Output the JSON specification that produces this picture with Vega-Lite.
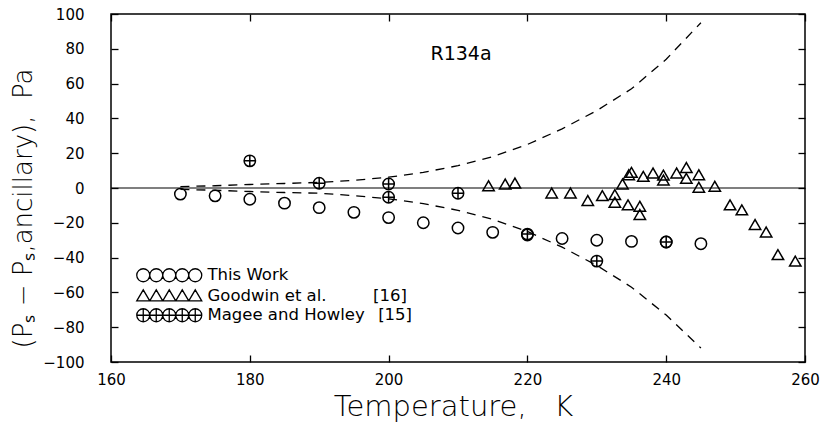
{
  "$schema": "https://vega.github.io/schema/vega-lite/v6.json",
  "width": 694,
  "height": 348,
  "autosize": {"type": "none"},
  "padding": {"left": 111, "top": 14, "right": 22, "bottom": 71},
  "background": "white",
  "title": {
    "text": "R134a",
    "font": "DejaVu Sans",
    "fontSize": 19,
    "fontWeight": "normal",
    "color": "black",
    "anchor": "middle",
    "frame": "group",
    "offset": -72,
    "dx": 3,
    "baseline": "alphabetic"
  },
  "config": {
    "view": {"stroke": "black", "strokeWidth": 1.5},
    "axis": {
      "labelFont": "DejaVu Sans",
      "labelFontSize": 15,
      "labelColor": "black",
      "tickColor": "black",
      "tickSize": -7,
      "tickWidth": 1.3,
      "domain": false,
      "grid": false,
      "titleFont": "DejaVu Sans",
      "titleFontWeight": 200,
      "titleColor": "black"
    }
  },
  "datasets": {
    "points": [
      {"T": 170, "v": -3.5, "series": "This Work"},
      {"T": 175, "v": -4.5, "series": "This Work"},
      {"T": 180, "v": -6.5, "series": "This Work"},
      {"T": 185, "v": -8.7, "series": "This Work"},
      {"T": 190, "v": -11.3, "series": "This Work"},
      {"T": 195, "v": -14, "series": "This Work"},
      {"T": 200, "v": -17, "series": "This Work"},
      {"T": 205, "v": -20, "series": "This Work"},
      {"T": 210, "v": -23, "series": "This Work"},
      {"T": 215, "v": -25.5, "series": "This Work"},
      {"T": 220, "v": -27, "series": "This Work"},
      {"T": 225, "v": -29, "series": "This Work"},
      {"T": 230, "v": -30, "series": "This Work"},
      {"T": 235, "v": -30.7, "series": "This Work"},
      {"T": 240, "v": -31, "series": "This Work"},
      {"T": 245, "v": -32, "series": "This Work"},
      {"T": 214.4, "v": 1.3, "series": "Goodwin et al. [16]"},
      {"T": 216.8, "v": 2.3, "series": "Goodwin et al. [16]"},
      {"T": 218.2, "v": 2.9, "series": "Goodwin et al. [16]"},
      {"T": 223.5, "v": -2.9, "series": "Goodwin et al. [16]"},
      {"T": 226.2, "v": -2.9, "series": "Goodwin et al. [16]"},
      {"T": 228.7, "v": -7.2, "series": "Goodwin et al. [16]"},
      {"T": 230.8, "v": -4.4, "series": "Goodwin et al. [16]"},
      {"T": 232.6, "v": -3.8, "series": "Goodwin et al. [16]"},
      {"T": 232.6, "v": -8.2, "series": "Goodwin et al. [16]"},
      {"T": 233.7, "v": 2.3, "series": "Goodwin et al. [16]"},
      {"T": 234.5, "v": -9.7, "series": "Goodwin et al. [16]"},
      {"T": 236.2, "v": -10.5, "series": "Goodwin et al. [16]"},
      {"T": 236.2, "v": -15.2, "series": "Goodwin et al. [16]"},
      {"T": 235.0, "v": 9.0, "series": "Goodwin et al. [16]"},
      {"T": 234.6, "v": 7.6, "series": "Goodwin et al. [16]"},
      {"T": 236.7, "v": 6.7, "series": "Goodwin et al. [16]"},
      {"T": 238.1, "v": 8.6, "series": "Goodwin et al. [16]"},
      {"T": 239.6, "v": 7.4, "series": "Goodwin et al. [16]"},
      {"T": 239.6, "v": 4.6, "series": "Goodwin et al. [16]"},
      {"T": 241.5, "v": 8.6, "series": "Goodwin et al. [16]"},
      {"T": 242.9, "v": 11.8, "series": "Goodwin et al. [16]"},
      {"T": 242.9, "v": 5.5, "series": "Goodwin et al. [16]"},
      {"T": 244.7, "v": 7.6, "series": "Goodwin et al. [16]"},
      {"T": 244.7, "v": 0.4, "series": "Goodwin et al. [16]"},
      {"T": 247.0, "v": 1.0, "series": "Goodwin et al. [16]"},
      {"T": 249.2, "v": -9.7, "series": "Goodwin et al. [16]"},
      {"T": 250.9, "v": -12.6, "series": "Goodwin et al. [16]"},
      {"T": 252.8, "v": -21, "series": "Goodwin et al. [16]"},
      {"T": 254.4, "v": -25.3, "series": "Goodwin et al. [16]"},
      {"T": 256.1, "v": -38.3, "series": "Goodwin et al. [16]"},
      {"T": 258.6, "v": -42, "series": "Goodwin et al. [16]"},
      {"T": 180, "v": 15.6, "series": "Magee and Howley [15]"},
      {"T": 190, "v": 2.7, "series": "Magee and Howley [15]"},
      {"T": 200, "v": 2.3, "series": "Magee and Howley [15]"},
      {"T": 200, "v": -5.3, "series": "Magee and Howley [15]"},
      {"T": 210, "v": -3, "series": "Magee and Howley [15]"},
      {"T": 220, "v": -26.5, "series": "Magee and Howley [15]"},
      {"T": 230, "v": -42, "series": "Magee and Howley [15]"},
      {"T": 240, "v": -31, "series": "Magee and Howley [15]"}
    ],
    "curves": [
      {"T": 170, "v": 0.8, "curve": "upper"},
      {"T": 175, "v": 1.3, "curve": "upper"},
      {"T": 180, "v": 2.0, "curve": "upper"},
      {"T": 185, "v": 2.6, "curve": "upper"},
      {"T": 190, "v": 3.2, "curve": "upper"},
      {"T": 195, "v": 4.4, "curve": "upper"},
      {"T": 200, "v": 6.2, "curve": "upper"},
      {"T": 205, "v": 9.0, "curve": "upper"},
      {"T": 210, "v": 12.8, "curve": "upper"},
      {"T": 215, "v": 18, "curve": "upper"},
      {"T": 220, "v": 25, "curve": "upper"},
      {"T": 225, "v": 34, "curve": "upper"},
      {"T": 230, "v": 44.5, "curve": "upper"},
      {"T": 235, "v": 57, "curve": "upper"},
      {"T": 240, "v": 74, "curve": "upper"},
      {"T": 245, "v": 95, "curve": "upper"},
      {"T": 170, "v": -0.8, "curve": "lower"},
      {"T": 175, "v": -1.3, "curve": "lower"},
      {"T": 180, "v": -2.0, "curve": "lower"},
      {"T": 185, "v": -2.6, "curve": "lower"},
      {"T": 190, "v": -3.0, "curve": "lower"},
      {"T": 195, "v": -4.4, "curve": "lower"},
      {"T": 200, "v": -6.2, "curve": "lower"},
      {"T": 205, "v": -9.0, "curve": "lower"},
      {"T": 210, "v": -12.8, "curve": "lower"},
      {"T": 215, "v": -18, "curve": "lower"},
      {"T": 220, "v": -25, "curve": "lower"},
      {"T": 225, "v": -34, "curve": "lower"},
      {"T": 230, "v": -44.5, "curve": "lower"},
      {"T": 235, "v": -57, "curve": "lower"},
      {"T": 240, "v": -73, "curve": "lower"},
      {"T": 245, "v": -92, "curve": "lower"}
    ]
  },
  "resolve": {
    "axis": {"x": "independent", "y": "independent"},
    "scale": {"shape": "independent"},
    "legend": {"shape": "independent"}
  },
  "layer": [
    {
      "data": {"name": "curves"},
      "mark": {"type": "line", "stroke": "black", "strokeWidth": 1.3, "strokeDash": [9, 7]},
      "encoding": {
        "x": {
          "field": "T", "type": "quantitative",
          "scale": {"domain": [160, 260], "nice": false, "zero": false},
          "axis": {"orient": "top", "labels": false, "title": null, "values": [160, 180, 200, 220, 240, 260]}
        },
        "y": {
          "field": "v", "type": "quantitative",
          "scale": {"domain": [-100, 100], "nice": false},
          "axis": {"orient": "right", "labels": false, "title": null, "values": [-100, -80, -60, -40, -20, 0, 20, 40, 60, 80, 100]}
        },
        "detail": {"field": "curve"}
      }
    },
    {
      "data": {"values": [{}]},
      "mark": {"type": "rule", "stroke": "black", "strokeWidth": 1.2},
      "encoding": {"y": {"datum": 0, "type": "quantitative", "axis": null}}
    },
    {
      "data": {"name": "points"},
      "mark": {"type": "point", "filled": false, "stroke": "black", "strokeWidth": 1.5, "opacity": 1, "size": 130},
      "encoding": {
        "x": {
          "field": "T", "type": "quantitative",
          "axis": {
            "orient": "bottom", "values": [160, 180, 200, 220, 240, 260],
            "labelFlush": false, "labelPadding": 17,
            "title": "Temperature,\u00a0\u00a0\u00a0K", "titleFontSize": 29, "titlePadding": 5, "titleX": 342
          }
        },
        "y": {
          "field": "v", "type": "quantitative",
          "axis": {
            "orient": "left", "values": [-100, -80, -60, -40, -20, 0, 20, 40, 60, 80, 100],
            "labelPadding": 34,
            "title": "(P\u209b \u2212 P\u209b,ancillary),\u00a0\u00a0Pa", "titleFontSize": 26, "titlePadding": 6, "titleY": 194
          }
        },
        "shape": {
          "field": "series", "type": "nominal",
          "scale": {
            "domain": ["This Work", "Goodwin et al. [16]", "Magee and Howley [15]"],
            "range": ["circle", "triangle-up", "M-1,0A1,1 0 1,0 1,0A1,1 0 1,0 -1,0M-1,0L1,0M0,-1L0,1"]
          },
          "legend": null
        }
      }
    },
    {
      "data": {"name": "points"},
      "transform": [{"filter": "false"}],
      "mark": {"type": "point", "filled": false, "stroke": "black", "strokeWidth": 1.3, "opacity": 1, "size": 169},
      "encoding": {
        "x": {"field": "T", "type": "quantitative", "axis": null},
        "y": {"field": "v", "type": "quantitative", "axis": null},
        "shape": {
          "field": "series", "type": "nominal",
          "scale": {
            "domain": ["This Work", "Goodwin et al. [16]", "Magee and Howley [15]"],
            "range": [
              "M-9,0A1,1 0 1,0 -7,0A1,1 0 1,0 -9,0M-7,0A1,1 0 1,0 -5,0A1,1 0 1,0 -7,0M-5,0A1,1 0 1,0 -3,0A1,1 0 1,0 -5,0M-3,0A1,1 0 1,0 -1,0A1,1 0 1,0 -3,0M-1,0A1,1 0 1,0 1,0A1,1 0 1,0 -1,0",
              "M-9,0.8L-8,-0.9L-7,0.8ZM-7,0.8L-6,-0.9L-5,0.8ZM-5,0.8L-4,-0.9L-3,0.8ZM-3,0.8L-2,-0.9L-1,0.8ZM-1,0.8L0,-0.9L1,0.8Z",
              "M-9,0A1,1 0 1,0 -7,0A1,1 0 1,0 -9,0M-9,0L-7,0M-8,-1L-8,1M-7,0A1,1 0 1,0 -5,0A1,1 0 1,0 -7,0M-7,0L-5,0M-6,-1L-6,1M-5,0A1,1 0 1,0 -3,0A1,1 0 1,0 -5,0M-5,0L-3,0M-4,-1L-4,1M-3,0A1,1 0 1,0 -1,0A1,1 0 1,0 -3,0M-3,0L-1,0M-2,-1L-2,1M-1,0A1,1 0 1,0 1,0A1,1 0 1,0 -1,0M-1,0L1,0M0,-1L0,1"
            ]
          },
          "legend": {
            "orient": "none",
            "legendX": 76,
            "legendY": 253,
            "title": null,
            "labelFont": "DejaVu Sans",
            "labelFontSize": 16.5,
            "labelColor": "black",
            "labelLimit": 400,
            "symbolSize": 169,
            "symbolStrokeWidth": 1.3,
            "symbolStrokeColor": "black",
            "symbolFillColor": "transparent",
            "symbolOpacity": 1,
            "labelOffset": 4,
            "rowPadding": 1.5,
            "labelExpr": "datum.label == 'Goodwin et al. [16]' ? 'Goodwin et al.\u2003\u2003\u2002\u00a0[16]' : datum.label == 'Magee and Howley [15]' ? 'Magee and Howley\u2002\u00a0[15]' : datum.label"
          }
        }
      }
    }
  ]
}
